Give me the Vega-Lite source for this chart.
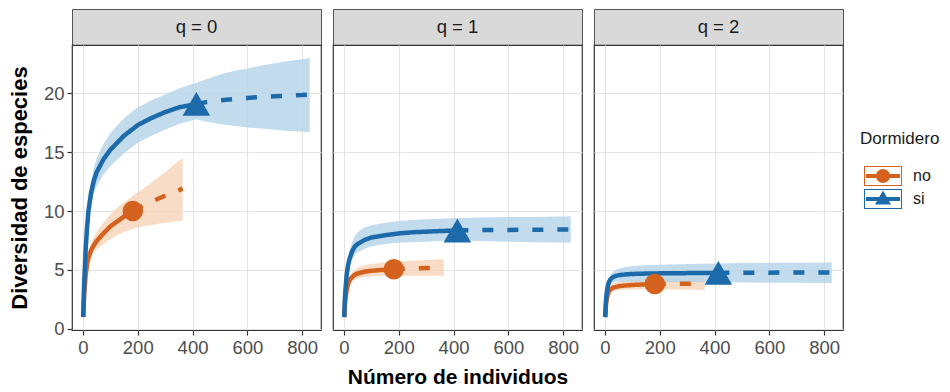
{
  "$schema": "https://vega.github.io/schema/vega-lite/v6.json",
  "padding": {"left": 7, "top": 8, "right": 5, "bottom": 0},
  "background": "white",
  "config": {
    "font": "Liberation Sans",
    "view": {"stroke": "#333333", "strokeWidth": 1.2},
    "axis": {
      "labelFont": "Liberation Sans", "labelFontSize": 18.5, "labelColor": "#4d4d4d",
      "tickColor": "#333333", "tickSize": 5, "tickWidth": 1.2, "labelPadding": 3,
      "domain": false, "gridColor": "#e6e6e6",
      "titleFont": "Liberation Sans", "titleFontSize": 22, "titleFontWeight": "bold", "titleColor": "#000000"
    },
    "text": {"font": "Liberation Sans"}
  },
  "datasets": {
    "strips": [{"q": "q = 0"}, {"q": "q = 1"}, {"q": "q = 2"}],
    "obs": [
      {"q": "q = 0", "Dormidero": "no", "n": 182, "D": 10.0},
      {"q": "q = 0", "Dormidero": "si", "n": 414, "D": 19.1},
      {"q": "q = 1", "Dormidero": "no", "n": 182, "D": 5.05},
      {"q": "q = 1", "Dormidero": "si", "n": 414, "D": 8.35},
      {"q": "q = 2", "Dormidero": "no", "n": 182, "D": 3.8},
      {"q": "q = 2", "Dormidero": "si", "n": 414, "D": 4.75}
    ],
    "curves": [
      {"q": "q = 0", "Dormidero": "no", "metodo": "rar", "n": 1, "D": 1, "lo": 1, "hi": 1},
      {"q": "q = 0", "Dormidero": "no", "metodo": "rar", "n": 3, "D": 2.2, "lo": 2.1, "hi": 2.3},
      {"q": "q = 0", "Dormidero": "no", "metodo": "rar", "n": 5, "D": 3.1, "lo": 2.9, "hi": 3.3},
      {"q": "q = 0", "Dormidero": "no", "metodo": "rar", "n": 10, "D": 4.6, "lo": 4.3, "hi": 4.9},
      {"q": "q = 0", "Dormidero": "no", "metodo": "rar", "n": 15, "D": 5.5, "lo": 5.1, "hi": 5.9},
      {"q": "q = 0", "Dormidero": "no", "metodo": "rar", "n": 20, "D": 6.0, "lo": 5.6, "hi": 6.5},
      {"q": "q = 0", "Dormidero": "no", "metodo": "rar", "n": 30, "D": 6.7, "lo": 6.2, "hi": 7.3},
      {"q": "q = 0", "Dormidero": "no", "metodo": "rar", "n": 40, "D": 7.1, "lo": 6.5, "hi": 7.8},
      {"q": "q = 0", "Dormidero": "no", "metodo": "rar", "n": 50, "D": 7.45, "lo": 6.75, "hi": 8.2},
      {"q": "q = 0", "Dormidero": "no", "metodo": "rar", "n": 75, "D": 8.1, "lo": 7.2, "hi": 9.0},
      {"q": "q = 0", "Dormidero": "no", "metodo": "rar", "n": 100, "D": 8.7, "lo": 7.6, "hi": 9.7},
      {"q": "q = 0", "Dormidero": "no", "metodo": "rar", "n": 130, "D": 9.2, "lo": 8.0, "hi": 10.4},
      {"q": "q = 0", "Dormidero": "no", "metodo": "rar", "n": 160, "D": 9.7, "lo": 8.3, "hi": 10.9},
      {"q": "q = 0", "Dormidero": "no", "metodo": "rar", "n": 182, "D": 10.0, "lo": 8.5, "hi": 11.3},
      {"q": "q = 0", "Dormidero": "no", "metodo": "ext", "n": 182, "D": 10.0, "lo": 8.5, "hi": 11.3},
      {"q": "q = 0", "Dormidero": "no", "metodo": "ext", "n": 220, "D": 10.45, "lo": 8.7, "hi": 11.9},
      {"q": "q = 0", "Dormidero": "no", "metodo": "ext", "n": 260, "D": 10.9, "lo": 8.85, "hi": 12.6},
      {"q": "q = 0", "Dormidero": "no", "metodo": "ext", "n": 300, "D": 11.3, "lo": 9.0, "hi": 13.3},
      {"q": "q = 0", "Dormidero": "no", "metodo": "ext", "n": 330, "D": 11.6, "lo": 9.1, "hi": 13.9},
      {"q": "q = 0", "Dormidero": "no", "metodo": "ext", "n": 364, "D": 11.9, "lo": 9.2, "hi": 14.5},

      {"q": "q = 0", "Dormidero": "si", "metodo": "rar", "n": 1, "D": 1, "lo": 1, "hi": 1},
      {"q": "q = 0", "Dormidero": "si", "metodo": "rar", "n": 3, "D": 2.8, "lo": 2.7, "hi": 2.9},
      {"q": "q = 0", "Dormidero": "si", "metodo": "rar", "n": 5, "D": 4.2, "lo": 4.0, "hi": 4.4},
      {"q": "q = 0", "Dormidero": "si", "metodo": "rar", "n": 10, "D": 6.8, "lo": 6.4, "hi": 7.2},
      {"q": "q = 0", "Dormidero": "si", "metodo": "rar", "n": 15, "D": 8.6, "lo": 8.0, "hi": 9.2},
      {"q": "q = 0", "Dormidero": "si", "metodo": "rar", "n": 20, "D": 10.0, "lo": 9.2, "hi": 10.8},
      {"q": "q = 0", "Dormidero": "si", "metodo": "rar", "n": 30, "D": 11.6, "lo": 10.6, "hi": 12.6},
      {"q": "q = 0", "Dormidero": "si", "metodo": "rar", "n": 40, "D": 12.6, "lo": 11.5, "hi": 13.7},
      {"q": "q = 0", "Dormidero": "si", "metodo": "rar", "n": 50, "D": 13.3, "lo": 12.1, "hi": 14.5},
      {"q": "q = 0", "Dormidero": "si", "metodo": "rar", "n": 75, "D": 14.4, "lo": 13.1, "hi": 15.7},
      {"q": "q = 0", "Dormidero": "si", "metodo": "rar", "n": 100, "D": 15.2, "lo": 13.8, "hi": 16.6},
      {"q": "q = 0", "Dormidero": "si", "metodo": "rar", "n": 150, "D": 16.4, "lo": 14.9, "hi": 17.9},
      {"q": "q = 0", "Dormidero": "si", "metodo": "rar", "n": 200, "D": 17.3, "lo": 15.8, "hi": 18.8},
      {"q": "q = 0", "Dormidero": "si", "metodo": "rar", "n": 250, "D": 17.9, "lo": 16.4, "hi": 19.4},
      {"q": "q = 0", "Dormidero": "si", "metodo": "rar", "n": 300, "D": 18.4, "lo": 16.9, "hi": 19.9},
      {"q": "q = 0", "Dormidero": "si", "metodo": "rar", "n": 350, "D": 18.8, "lo": 17.4, "hi": 20.4},
      {"q": "q = 0", "Dormidero": "si", "metodo": "rar", "n": 414, "D": 19.1, "lo": 17.8, "hi": 20.9},
      {"q": "q = 0", "Dormidero": "si", "metodo": "ext", "n": 414, "D": 19.1, "lo": 17.8, "hi": 20.9},
      {"q": "q = 0", "Dormidero": "si", "metodo": "ext", "n": 450, "D": 19.25, "lo": 17.6, "hi": 21.2},
      {"q": "q = 0", "Dormidero": "si", "metodo": "ext", "n": 500, "D": 19.4, "lo": 17.4, "hi": 21.6},
      {"q": "q = 0", "Dormidero": "si", "metodo": "ext", "n": 550, "D": 19.5, "lo": 17.25, "hi": 21.9},
      {"q": "q = 0", "Dormidero": "si", "metodo": "ext", "n": 600, "D": 19.6, "lo": 17.1, "hi": 22.1},
      {"q": "q = 0", "Dormidero": "si", "metodo": "ext", "n": 650, "D": 19.7, "lo": 17.0, "hi": 22.35},
      {"q": "q = 0", "Dormidero": "si", "metodo": "ext", "n": 700, "D": 19.75, "lo": 16.9, "hi": 22.55},
      {"q": "q = 0", "Dormidero": "si", "metodo": "ext", "n": 750, "D": 19.8, "lo": 16.8, "hi": 22.75},
      {"q": "q = 0", "Dormidero": "si", "metodo": "ext", "n": 800, "D": 19.85, "lo": 16.75, "hi": 22.9},
      {"q": "q = 0", "Dormidero": "si", "metodo": "ext", "n": 828, "D": 19.9, "lo": 16.7, "hi": 23.0},

      {"q": "q = 1", "Dormidero": "no", "metodo": "rar", "n": 1, "D": 1, "lo": 1, "hi": 1},
      {"q": "q = 1", "Dormidero": "no", "metodo": "rar", "n": 3, "D": 1.9, "lo": 1.8, "hi": 2.0},
      {"q": "q = 1", "Dormidero": "no", "metodo": "rar", "n": 5, "D": 2.5, "lo": 2.3, "hi": 2.7},
      {"q": "q = 1", "Dormidero": "no", "metodo": "rar", "n": 10, "D": 3.3, "lo": 3.1, "hi": 3.6},
      {"q": "q = 1", "Dormidero": "no", "metodo": "rar", "n": 15, "D": 3.8, "lo": 3.5, "hi": 4.1},
      {"q": "q = 1", "Dormidero": "no", "metodo": "rar", "n": 20, "D": 4.1, "lo": 3.8, "hi": 4.4},
      {"q": "q = 1", "Dormidero": "no", "metodo": "rar", "n": 30, "D": 4.4, "lo": 4.1, "hi": 4.8},
      {"q": "q = 1", "Dormidero": "no", "metodo": "rar", "n": 40, "D": 4.6, "lo": 4.2, "hi": 5.0},
      {"q": "q = 1", "Dormidero": "no", "metodo": "rar", "n": 50, "D": 4.7, "lo": 4.3, "hi": 5.2},
      {"q": "q = 1", "Dormidero": "no", "metodo": "rar", "n": 75, "D": 4.85, "lo": 4.4, "hi": 5.4},
      {"q": "q = 1", "Dormidero": "no", "metodo": "rar", "n": 100, "D": 4.93, "lo": 4.45, "hi": 5.5},
      {"q": "q = 1", "Dormidero": "no", "metodo": "rar", "n": 140, "D": 5.0, "lo": 4.5, "hi": 5.6},
      {"q": "q = 1", "Dormidero": "no", "metodo": "rar", "n": 182, "D": 5.05, "lo": 4.5, "hi": 5.7},
      {"q": "q = 1", "Dormidero": "no", "metodo": "ext", "n": 182, "D": 5.05, "lo": 4.5, "hi": 5.7},
      {"q": "q = 1", "Dormidero": "no", "metodo": "ext", "n": 220, "D": 5.1, "lo": 4.5, "hi": 5.75},
      {"q": "q = 1", "Dormidero": "no", "metodo": "ext", "n": 260, "D": 5.13, "lo": 4.5, "hi": 5.8},
      {"q": "q = 1", "Dormidero": "no", "metodo": "ext", "n": 300, "D": 5.16, "lo": 4.5, "hi": 5.85},
      {"q": "q = 1", "Dormidero": "no", "metodo": "ext", "n": 364, "D": 5.2, "lo": 4.5, "hi": 5.9},

      {"q": "q = 1", "Dormidero": "si", "metodo": "rar", "n": 1, "D": 1, "lo": 1, "hi": 1},
      {"q": "q = 1", "Dormidero": "si", "metodo": "rar", "n": 3, "D": 2.3, "lo": 2.2, "hi": 2.5},
      {"q": "q = 1", "Dormidero": "si", "metodo": "rar", "n": 5, "D": 3.2, "lo": 3.0, "hi": 3.5},
      {"q": "q = 1", "Dormidero": "si", "metodo": "rar", "n": 10, "D": 4.6, "lo": 4.3, "hi": 5.1},
      {"q": "q = 1", "Dormidero": "si", "metodo": "rar", "n": 15, "D": 5.4, "lo": 5.0, "hi": 6.0},
      {"q": "q = 1", "Dormidero": "si", "metodo": "rar", "n": 20, "D": 5.9, "lo": 5.3, "hi": 6.6},
      {"q": "q = 1", "Dormidero": "si", "metodo": "rar", "n": 30, "D": 6.6, "lo": 5.9, "hi": 7.4},
      {"q": "q = 1", "Dormidero": "si", "metodo": "rar", "n": 40, "D": 7.0, "lo": 6.3, "hi": 7.9},
      {"q": "q = 1", "Dormidero": "si", "metodo": "rar", "n": 50, "D": 7.2, "lo": 6.5, "hi": 8.2},
      {"q": "q = 1", "Dormidero": "si", "metodo": "rar", "n": 75, "D": 7.55, "lo": 6.8, "hi": 8.6},
      {"q": "q = 1", "Dormidero": "si", "metodo": "rar", "n": 100, "D": 7.75, "lo": 7.0, "hi": 8.8},
      {"q": "q = 1", "Dormidero": "si", "metodo": "rar", "n": 150, "D": 7.95, "lo": 7.2, "hi": 9.0},
      {"q": "q = 1", "Dormidero": "si", "metodo": "rar", "n": 200, "D": 8.1, "lo": 7.3, "hi": 9.15},
      {"q": "q = 1", "Dormidero": "si", "metodo": "rar", "n": 250, "D": 8.2, "lo": 7.35, "hi": 9.25},
      {"q": "q = 1", "Dormidero": "si", "metodo": "rar", "n": 300, "D": 8.25, "lo": 7.4, "hi": 9.3},
      {"q": "q = 1", "Dormidero": "si", "metodo": "rar", "n": 350, "D": 8.3, "lo": 7.45, "hi": 9.35},
      {"q": "q = 1", "Dormidero": "si", "metodo": "rar", "n": 414, "D": 8.35, "lo": 7.5, "hi": 9.4},
      {"q": "q = 1", "Dormidero": "si", "metodo": "ext", "n": 414, "D": 8.35, "lo": 7.5, "hi": 9.4},
      {"q": "q = 1", "Dormidero": "si", "metodo": "ext", "n": 500, "D": 8.38, "lo": 7.45, "hi": 9.45},
      {"q": "q = 1", "Dormidero": "si", "metodo": "ext", "n": 600, "D": 8.4, "lo": 7.4, "hi": 9.5},
      {"q": "q = 1", "Dormidero": "si", "metodo": "ext", "n": 700, "D": 8.42, "lo": 7.35, "hi": 9.5},
      {"q": "q = 1", "Dormidero": "si", "metodo": "ext", "n": 828, "D": 8.43, "lo": 7.3, "hi": 9.55},

      {"q": "q = 2", "Dormidero": "no", "metodo": "rar", "n": 1, "D": 1, "lo": 1, "hi": 1},
      {"q": "q = 2", "Dormidero": "no", "metodo": "rar", "n": 3, "D": 1.8, "lo": 1.75, "hi": 1.9},
      {"q": "q = 2", "Dormidero": "no", "metodo": "rar", "n": 5, "D": 2.3, "lo": 2.2, "hi": 2.45},
      {"q": "q = 2", "Dormidero": "no", "metodo": "rar", "n": 10, "D": 2.9, "lo": 2.75, "hi": 3.1},
      {"q": "q = 2", "Dormidero": "no", "metodo": "rar", "n": 15, "D": 3.2, "lo": 3.0, "hi": 3.45},
      {"q": "q = 2", "Dormidero": "no", "metodo": "rar", "n": 20, "D": 3.35, "lo": 3.1, "hi": 3.65},
      {"q": "q = 2", "Dormidero": "no", "metodo": "rar", "n": 30, "D": 3.5, "lo": 3.2, "hi": 3.85},
      {"q": "q = 2", "Dormidero": "no", "metodo": "rar", "n": 50, "D": 3.62, "lo": 3.3, "hi": 4.0},
      {"q": "q = 2", "Dormidero": "no", "metodo": "rar", "n": 75, "D": 3.68, "lo": 3.33, "hi": 4.1},
      {"q": "q = 2", "Dormidero": "no", "metodo": "rar", "n": 100, "D": 3.72, "lo": 3.35, "hi": 4.15},
      {"q": "q = 2", "Dormidero": "no", "metodo": "rar", "n": 140, "D": 3.77, "lo": 3.35, "hi": 4.2},
      {"q": "q = 2", "Dormidero": "no", "metodo": "rar", "n": 182, "D": 3.8, "lo": 3.35, "hi": 4.25},
      {"q": "q = 2", "Dormidero": "no", "metodo": "ext", "n": 182, "D": 3.8, "lo": 3.35, "hi": 4.25},
      {"q": "q = 2", "Dormidero": "no", "metodo": "ext", "n": 250, "D": 3.82, "lo": 3.33, "hi": 4.28},
      {"q": "q = 2", "Dormidero": "no", "metodo": "ext", "n": 300, "D": 3.83, "lo": 3.32, "hi": 4.3},
      {"q": "q = 2", "Dormidero": "no", "metodo": "ext", "n": 364, "D": 3.84, "lo": 3.3, "hi": 4.32},

      {"q": "q = 2", "Dormidero": "si", "metodo": "rar", "n": 1, "D": 1, "lo": 1, "hi": 1},
      {"q": "q = 2", "Dormidero": "si", "metodo": "rar", "n": 3, "D": 2.1, "lo": 2.0, "hi": 2.2},
      {"q": "q = 2", "Dormidero": "si", "metodo": "rar", "n": 5, "D": 2.8, "lo": 2.6, "hi": 3.0},
      {"q": "q = 2", "Dormidero": "si", "metodo": "rar", "n": 10, "D": 3.6, "lo": 3.35, "hi": 3.9},
      {"q": "q = 2", "Dormidero": "si", "metodo": "rar", "n": 15, "D": 4.0, "lo": 3.65, "hi": 4.35},
      {"q": "q = 2", "Dormidero": "si", "metodo": "rar", "n": 20, "D": 4.2, "lo": 3.8, "hi": 4.6},
      {"q": "q = 2", "Dormidero": "si", "metodo": "rar", "n": 30, "D": 4.4, "lo": 3.95, "hi": 4.85},
      {"q": "q = 2", "Dormidero": "si", "metodo": "rar", "n": 40, "D": 4.5, "lo": 4.0, "hi": 5.0},
      {"q": "q = 2", "Dormidero": "si", "metodo": "rar", "n": 50, "D": 4.55, "lo": 4.0, "hi": 5.1},
      {"q": "q = 2", "Dormidero": "si", "metodo": "rar", "n": 75, "D": 4.62, "lo": 4.0, "hi": 5.25},
      {"q": "q = 2", "Dormidero": "si", "metodo": "rar", "n": 100, "D": 4.66, "lo": 4.0, "hi": 5.33},
      {"q": "q = 2", "Dormidero": "si", "metodo": "rar", "n": 150, "D": 4.69, "lo": 4.0, "hi": 5.4},
      {"q": "q = 2", "Dormidero": "si", "metodo": "rar", "n": 200, "D": 4.71, "lo": 3.98, "hi": 5.45},
      {"q": "q = 2", "Dormidero": "si", "metodo": "rar", "n": 300, "D": 4.73, "lo": 3.96, "hi": 5.5},
      {"q": "q = 2", "Dormidero": "si", "metodo": "rar", "n": 414, "D": 4.75, "lo": 3.95, "hi": 5.55},
      {"q": "q = 2", "Dormidero": "si", "metodo": "ext", "n": 414, "D": 4.75, "lo": 3.95, "hi": 5.55},
      {"q": "q = 2", "Dormidero": "si", "metodo": "ext", "n": 500, "D": 4.76, "lo": 3.93, "hi": 5.58},
      {"q": "q = 2", "Dormidero": "si", "metodo": "ext", "n": 600, "D": 4.77, "lo": 3.92, "hi": 5.6},
      {"q": "q = 2", "Dormidero": "si", "metodo": "ext", "n": 700, "D": 4.78, "lo": 3.91, "hi": 5.62},
      {"q": "q = 2", "Dormidero": "si", "metodo": "ext", "n": 828, "D": 4.78, "lo": 3.9, "hi": 5.63}
    ]
  },
  "spacing": 10,
  "resolve": {"scale": {"color": "shared"}, "legend": {"color": "shared"}},
  "hconcat": [
    {
      "vconcat": [
        {
          "data": {"name": "strips"},
          "transform": [{"filter": "datum.q === 'q = 0'"}],
          "width": 249, "height": 36,
          "view": {"fill": "#d9d9d9", "stroke": "#555555", "strokeWidth": 1},
          "mark": {"type": "text", "fontSize": 18.5, "color": "#1a1a1a"},
          "encoding": {"text": {"field": "q"}}
        },
        {
          "width": 249, "height": 285,
          "layer": [
            {
              "data": {"name": "curves"},
              "transform": [{"filter": "datum.q === 'q = 0' && datum.Dormidero === 'no'"}],
              "mark": {"type": "area", "color": "#f6d3b8", "opacity": 0.8},
              "encoding": {
                "x": {"field": "n", "type": "quantitative", "scale": {"domain": [-40, 869], "nice": false, "zero": false},
                  "axis": {"values": [0, 100, 200, 300, 400, 500, 600, 700, 800], "labelExpr": "datum.value % 200 === 0 ? '' + datum.value : ''", "title": null,
                    "gridWidth": {"condition": {"test": "datum.value % 200 === 0", "value": 1.1}, "value": 0.6},
                    "gridColor": {"condition": {"test": "datum.value % 200 === 0", "value": "#e3e3e3"}, "value": "#f0f0f0"},
                    "tickOpacity": {"condition": {"test": "datum.value % 200 === 0", "value": 1}, "value": 0}}},
                "y": {"field": "lo", "type": "quantitative", "scale": {"domain": [-0.1, 24.1], "nice": false, "zero": false},
                  "axis": {"values": [0, 2.5, 5, 7.5, 10, 12.5, 15, 17.5, 20, 22.5], "labelExpr": "datum.value % 5 === 0 ? '' + datum.value : ''", "title": "Diversidad de especies", "titlePadding": 12,
                    "gridWidth": {"condition": {"test": "datum.value % 5 === 0", "value": 1.1}, "value": 0.6},
                    "gridColor": {"condition": {"test": "datum.value % 5 === 0", "value": "#e3e3e3"}, "value": "#f0f0f0"},
                    "tickOpacity": {"condition": {"test": "datum.value % 5 === 0", "value": 1}, "value": 0}}},
                "y2": {"field": "hi"}
              }
            },
            {
              "data": {"name": "curves"},
              "transform": [{"filter": "datum.q === 'q = 0' && datum.Dormidero === 'si'"}],
              "mark": {"type": "area", "color": "#b3d3ea", "opacity": 0.8},
              "encoding": {
                "x": {"field": "n", "type": "quantitative"},
                "y": {"field": "lo", "type": "quantitative"},
                "y2": {"field": "hi"}
              }
            },
            {
              "data": {"name": "curves"},
              "transform": [{"filter": "datum.q === 'q = 0'"}],
              "mark": {"type": "line", "strokeWidth": 4.5, "strokeCap": "butt"},
              "encoding": {
                "x": {"field": "n", "type": "quantitative"},
                "y": {"field": "D", "type": "quantitative"},
                "color": {"field": "Dormidero", "type": "nominal", "scale": {"domain": ["no", "si"], "range": ["#d4611d", "#1c6aa9"]},
                  "legend": {
                    "title": "Dormidero", "orient": "none", "legendX": 788, "legendY": 122,
                    "titleFontSize": 17, "titleFontWeight": "normal", "titleColor": "#1a1a1a", "titlePadding": 18,
                    "labelFontSize": 16, "labelColor": "#1a1a1a", "labelOffset": 33, "rowPadding": 3,
                    "symbolSize": 400, "symbolStrokeWidth": 0, "symbolOpacity": 1,
                    "encode": {
                      "symbols": {
                        "update": {
                          "shape": {"signal": "datum.value === 'no' ? 'M-0.6,-1H3.2V1H-0.6Z M-0.5,-0.9V0.9H3.1V-0.9Z M-0.4,-0.2H3.0V0.2H-0.4Z M2.0,0A0.7,0.7 0 1,1 0.6,0A0.7,0.7 0 1,1 2.0,0Z' : 'M-0.6,-1H3.2V1H-0.6Z M-0.5,-0.9V0.9H3.1V-0.9Z M-0.4,-0.2H3.0V0.2H-0.4Z M1.3,-0.85L2.1,0.55L0.5,0.55Z'"},
                          "fill": {"signal": "datum.value === 'no' ? '#d4611d' : '#1c6aa9'"},
                          "stroke": {"value": "transparent"},
                          "strokeWidth": {"value": 0},
                          "strokeDash": {"value": [1, 0]},
                          "size": {"value": 400},
                          "opacity": {"value": 1},
                          "fillOpacity": {"value": 1}
                        }
                      }
                    }
                  }},
                "strokeDash": {"field": "metodo", "type": "nominal", "scale": {"domain": ["rar", "ext"], "range": [[1, 0], [11, 14]]}, "legend": null}
              }
            },
            {
              "data": {"name": "obs"},
              "transform": [{"filter": "datum.q === 'q = 0' && datum.Dormidero === 'no'"}],
              "mark": {"type": "point", "filled": true, "opacity": 1, "shape": "circle", "size": 420},
              "encoding": {
                "x": {"field": "n", "type": "quantitative"},
                "y": {"field": "D", "type": "quantitative"},
                "color": {"field": "Dormidero", "type": "nominal"}
              }
            },
            {
              "data": {"name": "obs"},
              "transform": [{"filter": "datum.q === 'q = 0' && datum.Dormidero === 'si'"}],
              "mark": {"type": "point", "filled": true, "opacity": 1, "shape": "triangle-up", "size": 760},
              "encoding": {
                "x": {"field": "n", "type": "quantitative"},
                "y": {"field": "D", "type": "quantitative"},
                "color": {"field": "Dormidero", "type": "nominal"}
              }
            }
          ]
        }
      ],
      "spacing": 0,
      "bounds": "flush"
    },
    {
      "vconcat": [
        {
          "data": {"name": "strips"},
          "transform": [{"filter": "datum.q === 'q = 1'"}],
          "width": 249, "height": 36,
          "view": {"fill": "#d9d9d9", "stroke": "#555555", "strokeWidth": 1},
          "mark": {"type": "text", "fontSize": 18.5, "color": "#1a1a1a"},
          "encoding": {"text": {"field": "q"}}
        },
        {
          "width": 249, "height": 285,
          "layer": [
            {
              "data": {"name": "curves"},
              "transform": [{"filter": "datum.q === 'q = 1' && datum.Dormidero === 'no'"}],
              "mark": {"type": "area", "color": "#f6d3b8", "opacity": 0.8},
              "encoding": {
                "x": {"field": "n", "type": "quantitative", "scale": {"domain": [-40, 869], "nice": false, "zero": false},
                  "axis": {"values": [0, 100, 200, 300, 400, 500, 600, 700, 800], "labelExpr": "datum.value % 200 === 0 ? '' + datum.value : ''", "title": "Número de individuos", "titleFontSize": 21, "titlePadding": 10,
                    "gridWidth": {"condition": {"test": "datum.value % 200 === 0", "value": 1.1}, "value": 0.6},
                    "gridColor": {"condition": {"test": "datum.value % 200 === 0", "value": "#e3e3e3"}, "value": "#f0f0f0"},
                    "tickOpacity": {"condition": {"test": "datum.value % 200 === 0", "value": 1}, "value": 0}}},
                "y": {"field": "lo", "type": "quantitative", "scale": {"domain": [-0.1, 24.1], "nice": false, "zero": false},
                  "axis": {"values": [0, 2.5, 5, 7.5, 10, 12.5, 15, 17.5, 20, 22.5], "labels": false, "ticks": false, "title": null,
                    "gridWidth": {"condition": {"test": "datum.value % 5 === 0", "value": 1.1}, "value": 0.6},
                    "gridColor": {"condition": {"test": "datum.value % 5 === 0", "value": "#e3e3e3"}, "value": "#f0f0f0"}}},
                "y2": {"field": "hi"}
              }
            },
            {
              "data": {"name": "curves"},
              "transform": [{"filter": "datum.q === 'q = 1' && datum.Dormidero === 'si'"}],
              "mark": {"type": "area", "color": "#b3d3ea", "opacity": 0.8},
              "encoding": {
                "x": {"field": "n", "type": "quantitative"},
                "y": {"field": "lo", "type": "quantitative"},
                "y2": {"field": "hi"}
              }
            },
            {
              "data": {"name": "curves"},
              "transform": [{"filter": "datum.q === 'q = 1'"}],
              "mark": {"type": "line", "strokeWidth": 4.5, "strokeCap": "butt"},
              "encoding": {
                "x": {"field": "n", "type": "quantitative"},
                "y": {"field": "D", "type": "quantitative"},
                "color": {"field": "Dormidero", "type": "nominal"},
                "strokeDash": {"field": "metodo", "type": "nominal", "scale": {"domain": ["rar", "ext"], "range": [[1, 0], [11, 14]]}, "legend": null}
              }
            },
            {
              "data": {"name": "obs"},
              "transform": [{"filter": "datum.q === 'q = 1' && datum.Dormidero === 'no'"}],
              "mark": {"type": "point", "filled": true, "opacity": 1, "shape": "circle", "size": 420},
              "encoding": {
                "x": {"field": "n", "type": "quantitative"},
                "y": {"field": "D", "type": "quantitative"},
                "color": {"field": "Dormidero", "type": "nominal"}
              }
            },
            {
              "data": {"name": "obs"},
              "transform": [{"filter": "datum.q === 'q = 1' && datum.Dormidero === 'si'"}],
              "mark": {"type": "point", "filled": true, "opacity": 1, "shape": "triangle-up", "size": 760},
              "encoding": {
                "x": {"field": "n", "type": "quantitative"},
                "y": {"field": "D", "type": "quantitative"},
                "color": {"field": "Dormidero", "type": "nominal"}
              }
            }
          ]
        }
      ],
      "spacing": 0,
      "bounds": "flush"
    },
    {
      "vconcat": [
        {
          "data": {"name": "strips"},
          "transform": [{"filter": "datum.q === 'q = 2'"}],
          "width": 249, "height": 36,
          "view": {"fill": "#d9d9d9", "stroke": "#555555", "strokeWidth": 1},
          "mark": {"type": "text", "fontSize": 18.5, "color": "#1a1a1a"},
          "encoding": {"text": {"field": "q"}}
        },
        {
          "width": 249, "height": 285,
          "layer": [
            {
              "data": {"name": "curves"},
              "transform": [{"filter": "datum.q === 'q = 2' && datum.Dormidero === 'no'"}],
              "mark": {"type": "area", "color": "#f6d3b8", "opacity": 0.8},
              "encoding": {
                "x": {"field": "n", "type": "quantitative", "scale": {"domain": [-40, 869], "nice": false, "zero": false},
                  "axis": {"values": [0, 100, 200, 300, 400, 500, 600, 700, 800], "labelExpr": "datum.value % 200 === 0 ? '' + datum.value : ''", "title": null,
                    "gridWidth": {"condition": {"test": "datum.value % 200 === 0", "value": 1.1}, "value": 0.6},
                    "gridColor": {"condition": {"test": "datum.value % 200 === 0", "value": "#e3e3e3"}, "value": "#f0f0f0"},
                    "tickOpacity": {"condition": {"test": "datum.value % 200 === 0", "value": 1}, "value": 0}}},
                "y": {"field": "lo", "type": "quantitative", "scale": {"domain": [-0.1, 24.1], "nice": false, "zero": false},
                  "axis": {"values": [0, 2.5, 5, 7.5, 10, 12.5, 15, 17.5, 20, 22.5], "labels": false, "ticks": false, "title": null,
                    "gridWidth": {"condition": {"test": "datum.value % 5 === 0", "value": 1.1}, "value": 0.6},
                    "gridColor": {"condition": {"test": "datum.value % 5 === 0", "value": "#e3e3e3"}, "value": "#f0f0f0"}}},
                "y2": {"field": "hi"}
              }
            },
            {
              "data": {"name": "curves"},
              "transform": [{"filter": "datum.q === 'q = 2' && datum.Dormidero === 'si'"}],
              "mark": {"type": "area", "color": "#b3d3ea", "opacity": 0.8},
              "encoding": {
                "x": {"field": "n", "type": "quantitative"},
                "y": {"field": "lo", "type": "quantitative"},
                "y2": {"field": "hi"}
              }
            },
            {
              "data": {"name": "curves"},
              "transform": [{"filter": "datum.q === 'q = 2'"}],
              "mark": {"type": "line", "strokeWidth": 4.5, "strokeCap": "butt"},
              "encoding": {
                "x": {"field": "n", "type": "quantitative"},
                "y": {"field": "D", "type": "quantitative"},
                "color": {"field": "Dormidero", "type": "nominal"},
                "strokeDash": {"field": "metodo", "type": "nominal", "scale": {"domain": ["rar", "ext"], "range": [[1, 0], [11, 14]]}, "legend": null}
              }
            },
            {
              "data": {"name": "obs"},
              "transform": [{"filter": "datum.q === 'q = 2' && datum.Dormidero === 'no'"}],
              "mark": {"type": "point", "filled": true, "opacity": 1, "shape": "circle", "size": 420},
              "encoding": {
                "x": {"field": "n", "type": "quantitative"},
                "y": {"field": "D", "type": "quantitative"},
                "color": {"field": "Dormidero", "type": "nominal"}
              }
            },
            {
              "data": {"name": "obs"},
              "transform": [{"filter": "datum.q === 'q = 2' && datum.Dormidero === 'si'"}],
              "mark": {"type": "point", "filled": true, "opacity": 1, "shape": "triangle-up", "size": 760},
              "encoding": {
                "x": {"field": "n", "type": "quantitative"},
                "y": {"field": "D", "type": "quantitative"},
                "color": {"field": "Dormidero", "type": "nominal"}
              }
            }
          ]
        }
      ],
      "spacing": 0,
      "bounds": "flush"
    }
  ]
}
